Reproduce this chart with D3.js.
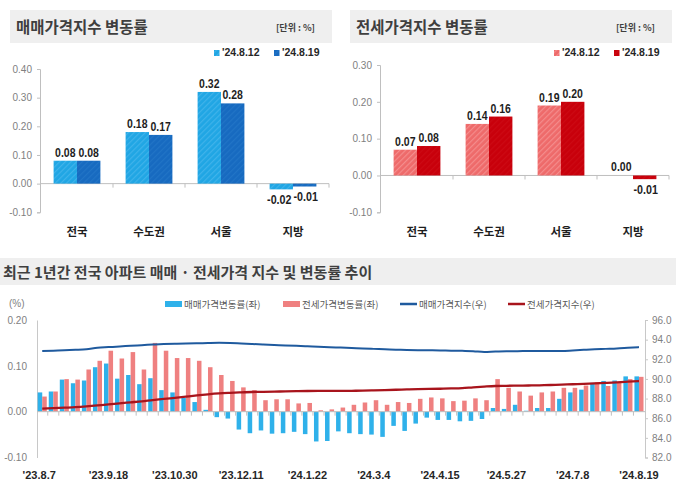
<!DOCTYPE html>
<html><head><meta charset="utf-8">
<script src="https://cdn.jsdelivr.net/npm/d3@7"></script>
<style>
html,body{margin:0;padding:0;background:#fff;}
svg{display:block;}
</style></head>
<body>
<svg id="c" width="680" height="493"></svg>
<script>
// ---------- DATA ----------
const regions = ['전국', '수도권', '서울', '지방'];
const seriesLabels = ["'24.8.12", "'24.8.19"];
const saleChange0812 = [0.08, 0.18, 0.32, -0.02];
const saleChange0819 = [0.08, 0.17, 0.28, -0.01];
const jeonseChange0812 = [0.07, 0.14, 0.19, 0.00];
const jeonseChange0819 = [0.08, 0.16, 0.20, -0.01];
const saleTicks = [-0.1, 0, 0.1, 0.2, 0.3, 0.4];
const jeonseTicks = [-0.1, 0, 0.1, 0.2, 0.3];

const weekStart = new Date(2023, 7, 7);
const weekCount = 55;
const weeklySaleChange = [
  0.042,0.044,0.070,0.062,0.068,0.097,0.105,0.072,0.080,0.060,
  0.073,0.047,0.042,0.030,0.021,0.004,-0.012,-0.015,-0.039,-0.047,
  -0.041,-0.048,-0.047,-0.044,-0.049,-0.065,-0.064,-0.043,-0.047,-0.049,
  -0.050,-0.055,-0.031,-0.042,-0.026,-0.013,-0.018,-0.018,-0.021,-0.020,
  -0.016,0.008,0.006,0.015,0.002,0.008,0.008,0.028,0.042,0.048,
  0.063,0.067,0.068,0.077,0.077];
const weeklyJeonseChange = [
  0.033,0.044,0.071,0.070,0.092,0.111,0.133,0.116,0.130,0.092,
  0.150,0.133,0.117,0.117,0.111,0.097,0.080,0.067,0.053,0.047,
  0.025,0.027,0.027,0.018,0.019,0.003,0.005,0.009,0.015,0.020,
  0.025,0.015,0.021,0.019,0.028,0.031,0.029,0.023,0.024,0.029,
  0.025,0.071,0.052,0.044,0.035,0.042,0.044,0.052,0.052,0.057,
  0.064,0.056,0.064,0.071,0.076];
const saleIndex = [
  92.85,92.88,92.92,92.96,93.02,93.18,93.24,93.30,93.38,93.44,
  93.50,93.55,93.58,93.61,93.63,93.66,93.68,93.66,93.61,93.56,
  93.51,93.46,93.41,93.37,93.33,93.28,93.23,93.19,93.15,93.11,
  93.06,93.01,92.98,92.95,92.93,92.92,92.90,92.88,92.86,92.83,
  92.74,92.80,92.83,92.83,92.84,92.84,92.85,92.85,92.90,92.96,
  93.02,93.06,93.10,93.17,93.24];
const jeonseIndex = [
  86.97,87.02,87.07,87.12,87.20,87.30,87.40,87.52,87.62,87.72,
  87.85,87.96,88.08,88.20,88.32,88.43,88.52,88.58,88.63,88.67,
  88.69,88.71,88.73,88.75,88.77,88.78,88.78,88.78,88.79,88.81,
  88.84,88.87,88.90,88.93,88.96,88.98,89.00,89.03,89.07,89.15,
  89.22,89.28,89.30,89.32,89.33,89.35,89.38,89.42,89.46,89.50,
  89.55,89.60,89.65,89.72,89.79];
const trendLeftTicks = [-0.1, 0, 0.1, 0.2];
const trendRightTicks = [82, 84, 86, 88, 90, 92, 94, 96];
const xTickLabels = ["'23.8.7","'23.9.18","'23.10.30","'23.12.11","'24.1.22","'24.3.4","'24.4.15","'24.5.27","'24.7.8","'24.8.19"];
const trendLegend = ['매매가격변동률(좌)', '전세가격변동률(좌)', '매매가격지수(우)', '전세가격지수(우)'];

// ---------- SETUP ----------
const KR = "'Noto Sans CJK KR', 'Noto Sans', sans-serif";
const NUM = "'Liberation Sans', Arial, sans-serif";

const svg = d3.select('#c');
svg.append('rect').attr('width', 680).attr('height', 493).attr('fill', '#fff');
const f2 = v => d3.format('.2f')(v).replace('\u2212', '-');
const f1 = v => d3.format('.1f')(v).replace('\u2212', '-');
// condensed width for value labels (narrow look)
const condensedWidth = s => s.split('').reduce((a, c) => a + (c === '.' ? 3 : c === '-' ? 4 : 5.8), 0);

const defs = svg.append('defs');
function hatch(id, base, line) {
  const p = defs.append('pattern').attr('id', id).attr('patternUnits', 'userSpaceOnUse')
    .attr('width', 4).attr('height', 4).attr('patternTransform', 'rotate(45)');
  p.append('rect').attr('width', 4).attr('height', 4).attr('fill', base);
  p.append('rect').attr('width', 1.2).attr('height', 4).attr('fill', line);
}
hatch('hLB', '#20a6e4', '#3fb3ea');
hatch('hDB', '#176ac0', '#2174c6');
hatch('hLR', '#ee6a6a', '#f48c8c');
hatch('hDR', '#c8000b', '#cc0a14');

// ---------- TOP PANELS ----------
function panel(ox, title, s1, s2, domain, yTop, ticks, fills) {
  const g = svg.append('g').attr('transform', `translate(${ox},0)`);
  g.append('rect').attr('x', 10).attr('y', 10).attr('width', 322).attr('height', 33).attr('fill', '#efefef');
  g.append('text').attr('x', 16).attr('y', 33).attr('font-family', KR).attr('font-weight', 700)
    .attr('font-size', 15.5).attr('fill', '#3f3f3f').text(title);
  g.append('text').attr('x', 315).attr('y', 31).attr('text-anchor', 'end').attr('font-family', KR)
    .attr('font-weight', 700).attr('font-size', 9).attr('fill', '#3f3f3f').text('[단위 : %]');

  // legend
  seriesLabels.forEach((lab, i) => {
    const lx = 214 + i * 60;
    g.append('rect').attr('x', lx).attr('y', 50).attr('width', 5.5).attr('height', 6).attr('fill', fills[i]);
    g.append('text').attr('x', lx + 8).attr('y', 56).attr('font-family', NUM).attr('font-weight', 700)
      .attr('font-size', 10.5).attr('fill', '#262626').text(lab);
  });

  const y = d3.scaleLinear().domain(domain).range([212.3, yTop]);
  const x0 = d3.scaleBand().domain(regions).range([41, 329]).paddingInner(0.35).paddingOuter(0.175);
  const x1 = d3.scaleBand().domain([0, 1]).range([0, x0.bandwidth()]);

  // axis
  const ax = g.append('g').attr('transform', 'translate(40,0)')
    .call(d3.axisLeft(y).tickValues(ticks).tickSize(3).tickPadding(5).tickFormat(f2));
  ax.select('.domain').attr('stroke', '#bfbfbf');
  ax.selectAll('.tick line').attr('stroke', '#bfbfbf');
  ax.selectAll('.tick text').attr('font-family', NUM).attr('font-size', 10).attr('fill', '#7f7f7f');

  // zero line + boundary ticks
  g.append('line').attr('x1', 40).attr('x2', 329).attr('y1', y(0)).attr('y2', y(0)).attr('stroke', '#bfbfbf');
  regions.forEach((r, i) => {
    const bx = x0(r) + x0.bandwidth() + x0.step() * x0.paddingInner() / 2;
    g.append('line').attr('x1', bx).attr('x2', bx).attr('y1', y(0)).attr('y2', y(0) + 4).attr('stroke', '#bfbfbf');
  });

  [s1, s2].forEach((arr, si) => {
    arr.forEach((v, i) => {
      const bx = x0(regions[i]) + x1(si);
      const w = x1.bandwidth();
      if (v !== 0) {
        g.append('rect').attr('x', bx).attr('width', w)
          .attr('y', Math.min(y(v), y(0))).attr('height', Math.abs(y(v) - y(0)))
          .attr('fill', fills[si]);
      }
      const s = f2(v);
      g.append('text').attr('x', bx + w / 2 + (v < 0 ? (si === 0 ? -2 : 1) : 0))
        .attr('y', v >= 0 ? y(v) - 4 : y(v) + 14.5)
        .attr('text-anchor', 'middle').attr('font-family', NUM).attr('font-weight', 700)
        .attr('font-size', 13).attr('fill', '#1e1e1e')
        .attr('textLength', condensedWidth(s)).attr('lengthAdjust', 'spacingAndGlyphs').text(s);
    });
  });

  regions.forEach(r => {
    g.append('text').attr('x', x0(r) + x0.bandwidth() / 2).attr('y', 236).attr('text-anchor', 'middle')
      .attr('font-family', KR).attr('font-weight', 700).attr('font-size', 11.5).attr('fill', '#1e1e1e').text(r);
  });
}
panel(0, '매매가격지수 변동률', saleChange0812, saleChange0819, [-0.1, 0.4], 69, saleTicks, ['url(#hLB)', 'url(#hDB)']);
panel(340, '전세가격지수 변동률', jeonseChange0812, jeonseChange0819, [-0.1, 0.3], 65, jeonseTicks, ['url(#hLR)', 'url(#hDR)']);

// ---------- BOTTOM TREND ----------
const tg = svg.append('g');
tg.append('rect').attr('x', 0).attr('y', 258).attr('width', 676).attr('height', 27).attr('fill', '#efefef');
tg.append('text').attr('x', 3).attr('y', 278).attr('font-family', KR).attr('font-weight', 700)
  .attr('font-size', 15).attr('fill', '#3f3f3f').text('최근 1년간 전국 아파트 매매 · 전세가격 지수 및 변동률 추이');

const weekFmt = d3.timeFormat("'%y.%-m.%-d");
const weeks = d3.range(weekCount).map(i => weekFmt(d3.timeDay.offset(weekStart, 7 * i)));

const xb = d3.scaleBand().domain(weeks).range([36.7, 644.5]).paddingInner(0.18).paddingOuter(0.09);
const xs = d3.scaleBand().domain([0, 1]).range([0, xb.bandwidth()]);
const yl = d3.scaleLinear().domain([-0.1, 0.2]).range([457.5, 320]);
const yr = d3.scaleLinear().domain([82, 96]).range([457.5, 320]);

// left axis
const la = tg.append('g').attr('transform', 'translate(37,0)')
  .call(d3.axisLeft(yl).tickValues(trendLeftTicks).tickSize(0).tickPadding(10).tickFormat(f2));
la.select('.domain').attr('stroke', '#c8c8c8');
la.selectAll('.tick text').attr('font-family', NUM).attr('font-size', 10).attr('fill', '#7f7f7f');
tg.append('text').attr('x', 9).attr('y', 307).attr('font-family', NUM).attr('font-size', 10).attr('fill', '#7f7f7f').text('(%)');

// right axis
const ra = tg.append('g').attr('transform', 'translate(645,0)')
  .call(d3.axisRight(yr).tickValues(trendRightTicks).tickSize(3).tickPadding(4).tickFormat(f1));
ra.select('.domain').attr('stroke', '#c8c8c8');
ra.selectAll('.tick line').attr('stroke', '#c8c8c8');
ra.selectAll('.tick text').attr('font-family', NUM).attr('font-size', 10).attr('fill', '#7f7f7f');

// bars
tg.selectAll('rect.sb').data(weeklySaleChange).join('rect').attr('class', 'sb')
  .attr('x', (d, i) => xb(weeks[i]) + xs(0)).attr('width', xs.bandwidth())
  .attr('y', d => Math.min(yl(d), yl(0))).attr('height', d => Math.abs(yl(d) - yl(0)))
  .attr('fill', '#2fb1ea');
tg.selectAll('rect.jb').data(weeklyJeonseChange).join('rect').attr('class', 'jb')
  .attr('x', (d, i) => xb(weeks[i]) + xs(1)).attr('width', xs.bandwidth())
  .attr('y', d => Math.min(yl(d), yl(0))).attr('height', d => Math.abs(yl(d) - yl(0)))
  .attr('fill', '#ef8080');

// zero axis + ticks
tg.append('line').attr('x1', 37).attr('x2', 645).attr('y1', yl(0)).attr('y2', yl(0)).attr('stroke', '#bfbfbf');
weeks.forEach((w, i) => {
  if (i === 0) return;
  const bx = xb(w) - xb.step() * xb.paddingInner() / 2;
  tg.append('line').attr('x1', bx).attr('x2', bx).attr('y1', yl(0)).attr('y2', yl(0) + 4).attr('stroke', '#bfbfbf');
});

// lines
const cx = i => xb(weeks[i]) + xb.bandwidth() / 2;
const lineGen = d3.line().x((d, i) => cx(i)).y(d => yr(d)).curve(d3.curveMonotoneX);
tg.append('path').datum(saleIndex).attr('d', lineGen).attr('fill', 'none').attr('stroke', '#1f5a9e').attr('stroke-width', 2);
tg.append('path').datum(jeonseIndex).attr('d', lineGen).attr('fill', 'none').attr('stroke', '#a8141c').attr('stroke-width', 2.3);

// x labels
weeks.forEach((w, i) => {
  if (!xTickLabels.includes(w)) return;
  tg.append('text').attr('x', cx(i) - (i === 0 ? 3 : 0)).attr('y', 479).attr('text-anchor', 'middle')
    .attr('font-family', NUM).attr('font-weight', 700).attr('font-size', 11).attr('fill', '#262626').text(w);
});

// legend
const legX = [165, 283, 400, 508];
const legCol = ['#2fb1ea', '#ef8080', '#1f5a9e', '#a8141c'];
trendLegend.forEach((t, i) => {
  if (i < 2) {
    tg.append('rect').attr('x', legX[i]).attr('y', 301).attr('width', 17).attr('height', 6).attr('fill', legCol[i]);
  } else {
    tg.append('line').attr('x1', legX[i]).attr('x2', legX[i] + 17).attr('y1', 304).attr('y2', 304)
      .attr('stroke', legCol[i]).attr('stroke-width', 2.5);
  }
  tg.append('text').attr('x', legX[i] + 19).attr('y', 307.5).attr('font-family', KR).attr('font-size', 9.5)
    .attr('fill', '#595959').text(t);
});
</script>
</body></html>
